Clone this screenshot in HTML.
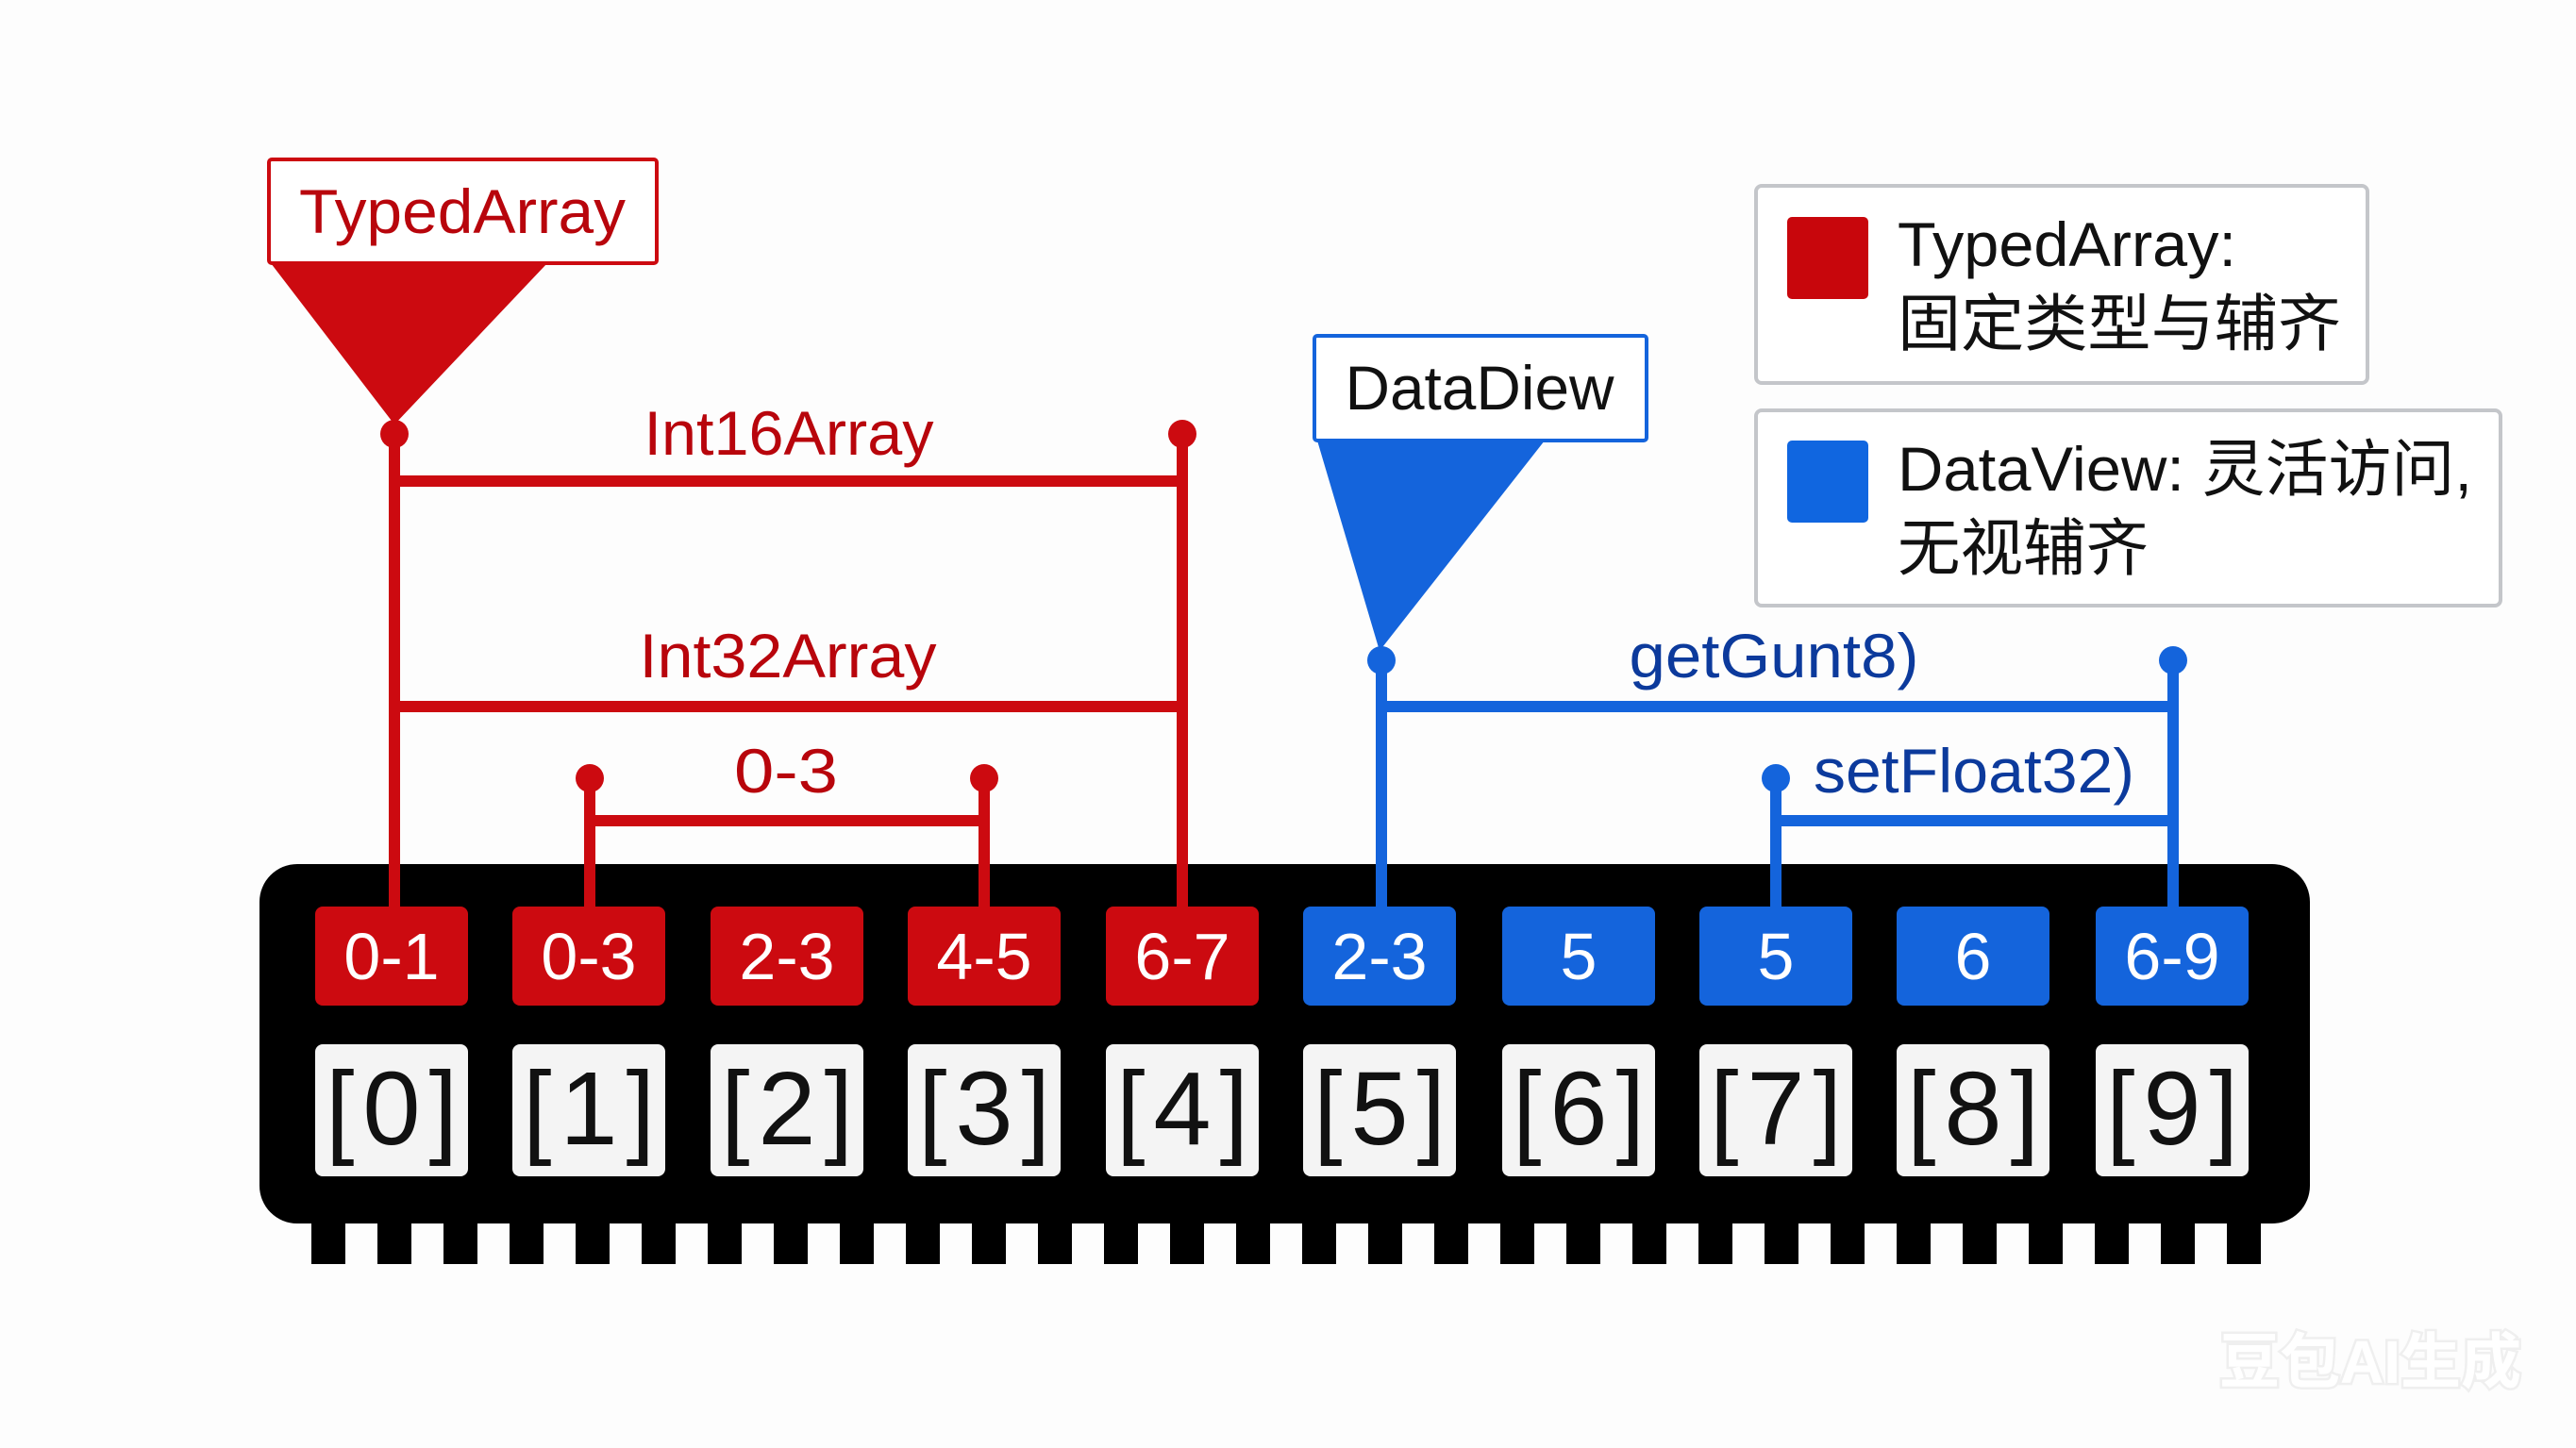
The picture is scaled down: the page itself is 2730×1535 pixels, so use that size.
<!DOCTYPE html>
<html><head><meta charset="utf-8"><style>
html,body{margin:0;padding:0;background:#fdfdfd;}
svg{display:block;}
text{font-family:"Liberation Sans","Noto Sans CJK SC",sans-serif;}
</style></head><body>
<svg width="2730" height="1535" viewBox="0 0 2730 1535" xmlns="http://www.w3.org/2000/svg">
<rect width="2730" height="1535" fill="#fdfdfd"/>
<g fill="#000">
<rect x="330" y="1280" width="36" height="60"/><rect x="400" y="1280" width="36" height="60"/><rect x="470" y="1280" width="36" height="60"/><rect x="540" y="1280" width="36" height="60"/><rect x="610" y="1280" width="36" height="60"/><rect x="680" y="1280" width="36" height="60"/><rect x="750" y="1280" width="36" height="60"/><rect x="820" y="1280" width="36" height="60"/><rect x="890" y="1280" width="36" height="60"/><rect x="960" y="1280" width="36" height="60"/><rect x="1030" y="1280" width="36" height="60"/><rect x="1100" y="1280" width="36" height="60"/><rect x="1170" y="1280" width="36" height="60"/><rect x="1240" y="1280" width="36" height="60"/><rect x="1310" y="1280" width="36" height="60"/><rect x="1380" y="1280" width="36" height="60"/><rect x="1450" y="1280" width="36" height="60"/><rect x="1520" y="1280" width="36" height="60"/><rect x="1590" y="1280" width="36" height="60"/><rect x="1660" y="1280" width="36" height="60"/><rect x="1730" y="1280" width="36" height="60"/><rect x="1800" y="1280" width="36" height="60"/><rect x="1870" y="1280" width="36" height="60"/><rect x="1940" y="1280" width="36" height="60"/><rect x="2010" y="1280" width="36" height="60"/><rect x="2080" y="1280" width="36" height="60"/><rect x="2150" y="1280" width="36" height="60"/><rect x="2220" y="1280" width="36" height="60"/><rect x="2290" y="1280" width="36" height="60"/><rect x="2360" y="1280" width="36" height="60"/>
</g>
<rect x="275" y="916" width="2173" height="381" rx="40" fill="#000"/>

<g stroke="#cc0a10" stroke-width="12" fill="none">
<line x1="418" y1="460" x2="418" y2="965"/>
<line x1="1253" y1="460" x2="1253" y2="965"/>
<line x1="418" y1="510" x2="1253" y2="510"/>
<line x1="418" y1="749" x2="1253" y2="749"/>
<line x1="625" y1="825" x2="625" y2="965"/>
<line x1="1043" y1="825" x2="1043" y2="965"/>
<line x1="625" y1="870" x2="1043" y2="870"/>
</g>
<g fill="#cc0a10">
<circle cx="418" cy="460" r="15"/><circle cx="1253" cy="460" r="15"/>
<circle cx="625" cy="825" r="15"/><circle cx="1043" cy="825" r="15"/>
<polygon points="287,279 580,279 418,450"/>
</g>
<rect x="285" y="169" width="411" height="110" fill="#fff" stroke="#cc0a10" stroke-width="4" rx="3"/>
<text x="490" y="247" font-size="66" fill="#b8050c" text-anchor="middle" textLength="346" lengthAdjust="spacingAndGlyphs">TypedArray</text>
<text x="836" y="482" font-size="66" fill="#b8050c" text-anchor="middle" textLength="307" lengthAdjust="spacingAndGlyphs">Int16Array</text>
<text x="835" y="718" font-size="66" fill="#b8050c" text-anchor="middle" textLength="315" lengthAdjust="spacingAndGlyphs">Int32Array</text>
<text x="833" y="840" font-size="66" fill="#b8050c" text-anchor="middle" textLength="110" lengthAdjust="spacingAndGlyphs">0-3</text>

<g stroke="#1464dc" stroke-width="12" fill="none">
<line x1="1464" y1="700" x2="1464" y2="965"/>
<line x1="2303" y1="700" x2="2303" y2="965"/>
<line x1="1464" y1="749" x2="2303" y2="749"/>
<line x1="1882" y1="825" x2="1882" y2="965"/>
<line x1="1882" y1="870" x2="2303" y2="870"/>
</g>
<g fill="#1464dc">
<circle cx="1464" cy="700" r="15"/><circle cx="2303" cy="700" r="15"/><circle cx="1882" cy="825" r="15"/>
<polygon points="1396,467 1637,467 1462,690"/>
</g>
<rect x="1393" y="356" width="352" height="111" fill="#fff" stroke="#1464dc" stroke-width="4" rx="3"/>
<text x="1568" y="434" font-size="66" fill="#111" text-anchor="middle" textLength="285" lengthAdjust="spacingAndGlyphs">DataDiew</text>
<text x="1880" y="718" font-size="66" fill="#0c3a9c" text-anchor="middle" textLength="307" lengthAdjust="spacingAndGlyphs">getGunt8)</text>
<text x="2092" y="840" font-size="66" fill="#0c3a9c" text-anchor="middle" textLength="340" lengthAdjust="spacingAndGlyphs">setFloat32)</text>

<g font-size="70" fill="#fff" text-anchor="middle">
<rect x="334" y="961" width="162" height="105" rx="8" fill="#cc0a10"/><text x="415" y="1038">0-1</text>
<rect x="543" y="961" width="162" height="105" rx="8" fill="#cc0a10"/><text x="624" y="1038">0-3</text>
<rect x="753" y="961" width="162" height="105" rx="8" fill="#cc0a10"/><text x="834" y="1038">2-3</text>
<rect x="962" y="961" width="162" height="105" rx="8" fill="#cc0a10"/><text x="1043" y="1038">4-5</text>
<rect x="1172" y="961" width="162" height="105" rx="8" fill="#cc0a10"/><text x="1253" y="1038">6-7</text>
<rect x="1381" y="961" width="162" height="105" rx="8" fill="#1464dc"/><text x="1462" y="1038">2-3</text>
<rect x="1592" y="961" width="162" height="105" rx="8" fill="#1464dc"/><text x="1673" y="1038">5</text>
<rect x="1801" y="961" width="162" height="105" rx="8" fill="#1464dc"/><text x="1882" y="1038">5</text>
<rect x="2010" y="961" width="162" height="105" rx="8" fill="#1464dc"/><text x="2091" y="1038">6</text>
<rect x="2221" y="961" width="162" height="105" rx="8" fill="#1464dc"/><text x="2302" y="1038">6-9</text>
</g>
<g font-size="110" fill="#111" text-anchor="middle">
<rect x="334" y="1107" width="162" height="140" rx="8" fill="#f4f4f4"/><text x="415" y="1213" textLength="140" lengthAdjust="spacing">[0]</text>
<rect x="543" y="1107" width="162" height="140" rx="8" fill="#f4f4f4"/><text x="624" y="1213" textLength="140" lengthAdjust="spacing">[1]</text>
<rect x="753" y="1107" width="162" height="140" rx="8" fill="#f4f4f4"/><text x="834" y="1213" textLength="140" lengthAdjust="spacing">[2]</text>
<rect x="962" y="1107" width="162" height="140" rx="8" fill="#f4f4f4"/><text x="1043" y="1213" textLength="140" lengthAdjust="spacing">[3]</text>
<rect x="1172" y="1107" width="162" height="140" rx="8" fill="#f4f4f4"/><text x="1253" y="1213" textLength="140" lengthAdjust="spacing">[4]</text>
<rect x="1381" y="1107" width="162" height="140" rx="8" fill="#f4f4f4"/><text x="1462" y="1213" textLength="140" lengthAdjust="spacing">[5]</text>
<rect x="1592" y="1107" width="162" height="140" rx="8" fill="#f4f4f4"/><text x="1673" y="1213" textLength="140" lengthAdjust="spacing">[6]</text>
<rect x="1801" y="1107" width="162" height="140" rx="8" fill="#f4f4f4"/><text x="1882" y="1213" textLength="140" lengthAdjust="spacing">[7]</text>
<rect x="2010" y="1107" width="162" height="140" rx="8" fill="#f4f4f4"/><text x="2091" y="1213" textLength="140" lengthAdjust="spacing">[8]</text>
<rect x="2221" y="1107" width="162" height="140" rx="8" fill="#f4f4f4"/><text x="2302" y="1213" textLength="140" lengthAdjust="spacing">[9]</text>
</g>

<rect x="1861" y="197" width="648" height="209" rx="6" fill="#fff" stroke="#c4c6ca" stroke-width="4"/>
<rect x="1894" y="230" width="86" height="87" rx="5" fill="#c8060c"/>
<text x="2011" y="282" font-size="66" fill="#111" textLength="359" lengthAdjust="spacingAndGlyphs">TypedArray:</text>
<text x="2011" y="366" font-size="66" fill="#111" textLength="470" lengthAdjust="spacingAndGlyphs">固定类型与辅齐</text>
<rect x="1861" y="435" width="789" height="207" rx="6" fill="#fff" stroke="#c4c6ca" stroke-width="4"/>
<rect x="1894" y="467" width="86" height="87" rx="5" fill="#1066e0"/>
<text x="2011" y="520" font-size="66" fill="#111" textLength="609" lengthAdjust="spacingAndGlyphs">DataView: 灵活访问,</text>
<text x="2011" y="604" font-size="66" fill="#111" textLength="266" lengthAdjust="spacingAndGlyphs">无视辅齐</text>

<text x="2512" y="1466" font-size="64" font-weight="bold" fill="#fff" text-anchor="middle" style="paint-order:stroke" stroke="#efefef" stroke-width="5">豆包AI生成</text>
</svg>
</body></html>
